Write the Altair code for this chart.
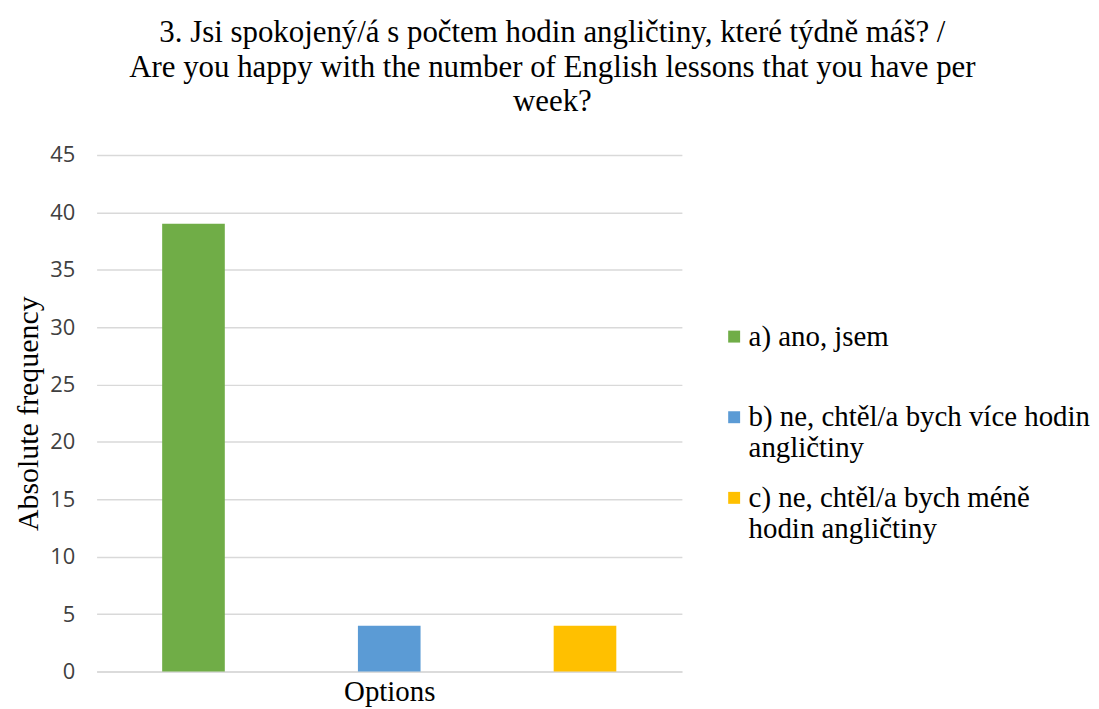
import altair as alt
import pandas as pd

# Data
options = [
    "a) ano, jsem|",
    "b) ne, chtěl/a bych více hodin|angličtiny",
    "c) ne, chtěl/a bych méně|hodin angličtiny",
]
counts = [39, 4, 4]
colors = ["#70AD47", "#5B9BD5", "#FFC000"]
y_ticks = [0, 5, 10, 15, 20, 25, 30, 35, 40, 45]

title_lines = [
    "3. Jsi spokojený/á s počtem hodin angličtiny, které týdně máš? /",
    "Are you happy with the number of English lessons that you have per",
    "week?",
]

df = pd.DataFrame({"option": options, "count": counts})

serif = "Liberation Serif"

chart = (
    alt.Chart(df)
    .mark_bar()
    .encode(
        x=alt.X(
            "option:N",
            scale=alt.Scale(paddingInner=0.68, paddingOuter=0.335),
            axis=alt.Axis(
                title="Options",
                labels=False,
                ticks=False,
                domainColor="#D9D9D9",
                domainWidth=1.5,
                titleFont=serif,
                titleFontSize=29,
                titleFontWeight="normal",
                titleColor="#000000",
                titlePadding=6,
            ),
        ),
        y=alt.Y(
            "count:Q",
            scale=alt.Scale(domain=[0, 45]),
            axis=alt.Axis(
                values=y_ticks,
                title="Absolute frequency",
                domain=False,
                ticks=False,
                gridColor="#D9D9D9",
                gridWidth=1.5,
                labelFont="Open Sans",
                labelFontSize=22,
                labelColor="#404040",
                labelPadding=22,
                titleFont=serif,
                titleFontSize=30,
                titleFontWeight="normal",
                titleColor="#000000",
                titlePadding=6,
            ),
        ),
        color=alt.Color(
            "option:N",
            scale=alt.Scale(domain=options, range=colors),
            legend=alt.Legend(
                title=None,
                orient="none",
                legendX=626,
                legendY=168,
                symbolType="square",
                symbolSize=144,
                symbolStrokeWidth=0,
                labelFont=serif,
                labelFontSize=29,
                labelColor="#000000",
                labelLimit=500,
                labelBaseline="middle",
                labelExpr="split(datum.label, '|')",
                rowPadding=20,
                labelOffset=0,
            ),
        ),
    )
    .properties(
        width=588,
        height=519,
        padding={"left": 5, "top": 8, "right": 0, "bottom": 0},
        title=alt.TitleParams(
            text=title_lines,
            font=serif,
            fontSize=31,
            fontWeight="normal",
            color="#000000",
            anchor="middle",
            frame="bounds",
            lineHeight=34.5,
            offset=26,
        ),
    )
    .configure_view(stroke=None)
)

chart.save("out.html", embed_options={"renderer": "svg", "actions": False})
